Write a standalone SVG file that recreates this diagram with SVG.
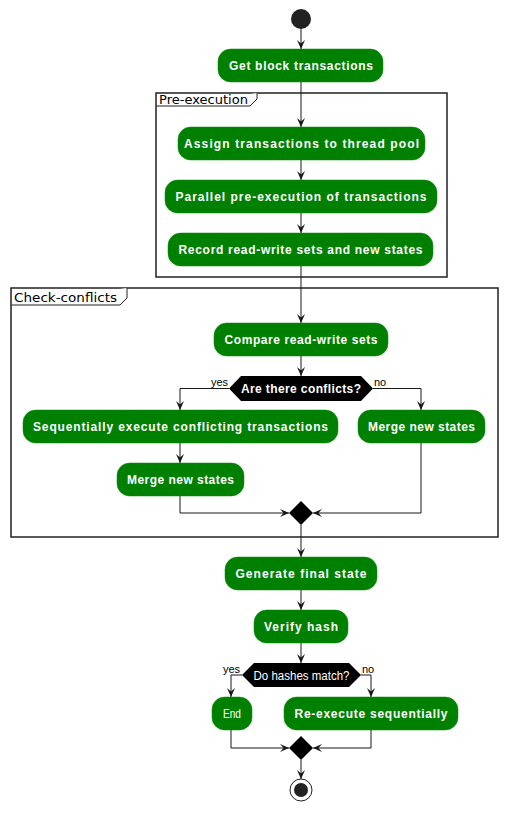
<svg xmlns="http://www.w3.org/2000/svg" width="509" height="814" viewBox="0 0 509 814">
<style>
.bg{fill:#ffffff}
.act{fill:#008000;stroke:#0a8a0a;stroke-width:0.5}
.t{font-family:"Liberation Sans","DejaVu Sans",sans-serif;font-size:12px;font-weight:bold;fill:#ffffff;text-anchor:middle}
.tn{font-family:"Liberation Sans","DejaVu Sans",sans-serif;font-size:12px;fill:#ffffff;text-anchor:middle}
.dec{fill:#000000}
.lbl{font-family:"Liberation Sans","DejaVu Sans",sans-serif;font-size:11px;fill:#000000}
.frame{fill:none;stroke:#222222;stroke-width:1.5}
.ftab{fill:#ffffff;stroke:#222222;stroke-width:1}
.ftxt{font-family:"DejaVu Sans","Liberation Sans",sans-serif;font-size:13px;fill:#000000}
.c{fill:none;stroke:#181818;stroke-width:1}
.merge{fill:#000000}
</style>
<defs>
<marker id="arr" viewBox="0 0 10 10" refX="10" refY="5" markerWidth="9" markerHeight="9" markerUnits="userSpaceOnUse" orient="auto">
<path d="M0,0.5 L10,5 L0,9.5 L4,5 Z" fill="#181818"/>
</marker>
</defs>
<rect class="bg" x="0" y="0" width="509" height="814"/>

<g id="frame-pre-execution">
<rect class="frame" x="156" y="93" width="291" height="184"/>
<path class="ftab" d="M156,106 H250 L257,99 V93"/>
<text class="ftxt" x="159" y="104" textLength="89" lengthAdjust="spacingAndGlyphs">Pre-execution</text>
</g>
<g id="frame-check-conflicts">
<rect class="frame" x="11" y="288" width="487" height="249"/>
<path class="ftab" d="M11,305 H120 L127,298 V288"/>
<text class="ftxt" x="14" y="302" textLength="103" lengthAdjust="spacingAndGlyphs">Check-conflicts</text>
</g>

<g id="connectors">
<line class="c" x1="301" y1="29" x2="301" y2="49" marker-end="url(#arr)"/>
<line class="c" x1="301" y1="82" x2="301" y2="127" marker-end="url(#arr)"/>
<line class="c" x1="301" y1="160" x2="301" y2="180" marker-end="url(#arr)"/>
<line class="c" x1="301" y1="213" x2="301" y2="233" marker-end="url(#arr)"/>
<line class="c" x1="301" y1="266" x2="301" y2="323" marker-end="url(#arr)"/>
<line class="c" x1="301" y1="356" x2="301" y2="376" marker-end="url(#arr)"/>
<polyline class="c" points="229,388.5 180,388.5 180,410" marker-end="url(#arr)"/>
<polyline class="c" points="373,388.5 421,388.5 421,410" marker-end="url(#arr)"/>
<line class="c" x1="180" y1="443" x2="180" y2="463" marker-end="url(#arr)"/>
<polyline class="c" points="180,496 180,513 289,513" marker-end="url(#arr)"/>
<polyline class="c" points="421,443 421,513 313,513" marker-end="url(#arr)"/>
<line class="c" x1="301" y1="525" x2="301" y2="557" marker-end="url(#arr)"/>
<line class="c" x1="301" y1="590" x2="301" y2="610" marker-end="url(#arr)"/>
<line class="c" x1="301" y1="643" x2="301" y2="663" marker-end="url(#arr)"/>
<polyline class="c" points="242,675 231,675 231,697" marker-end="url(#arr)"/>
<polyline class="c" points="361,675 371,675 371,697" marker-end="url(#arr)"/>
<polyline class="c" points="231,730 231,748 289,748" marker-end="url(#arr)"/>
<polyline class="c" points="371,730 371,748 313,748" marker-end="url(#arr)"/>
<line class="c" x1="301" y1="760" x2="301" y2="779" marker-end="url(#arr)"/>
<text class="lbl" x="211" y="386">yes</text>
<text class="lbl" x="374" y="386">no</text>
<text class="lbl" x="223" y="673">yes</text>
<text class="lbl" x="362" y="673">no</text>
</g>

<g id="start"><circle cx="301" cy="19" r="10" fill="#222222"/></g>

<g id="get-block-transactions">
<rect class="act" x="218" y="49" width="165" height="33" rx="12.5"/>
<text class="t" x="301" y="70" textLength="144" lengthAdjust="spacing">Get block transactions</text>
</g>
<g id="assign-transactions">
<rect class="act" x="178" y="127" width="247" height="33" rx="12.5"/>
<text class="t" x="301.5" y="148" textLength="235" lengthAdjust="spacing">Assign transactions to thread pool</text>
</g>
<g id="parallel-pre-execution">
<rect class="act" x="165" y="180" width="272" height="33" rx="12.5"/>
<text class="t" x="301" y="201" textLength="251" lengthAdjust="spacing">Parallel pre-execution of transactions</text>
</g>
<g id="record-read-write-sets">
<rect class="act" x="168" y="233" width="265" height="33" rx="12.5"/>
<text class="t" x="300.5" y="254" textLength="244" lengthAdjust="spacing">Record read-write sets and new states</text>
</g>
<g id="compare-read-write-sets">
<rect class="act" x="214" y="323" width="174" height="33" rx="12.5"/>
<text class="t" x="301" y="344" textLength="153" lengthAdjust="spacing">Compare read-write sets</text>
</g>
<g id="conflicts-decision">
<polygon class="dec" points="229,388.5 241,376 361,376 373,388.5 361,401 241,401"/>
<text class="t" x="301" y="393" textLength="120" lengthAdjust="spacing">Are there conflicts?</text>
</g>
<g id="sequentially-execute">
<rect class="act" x="23" y="410" width="315" height="33" rx="12.5"/>
<text class="t" x="180.5" y="431" textLength="295" lengthAdjust="spacing">Sequentially execute conflicting transactions</text>
</g>
<g id="merge-new-states-no">
<rect class="act" x="358" y="410" width="127" height="33" rx="12.5"/>
<text class="t" x="421.5" y="431" textLength="107" lengthAdjust="spacing">Merge new states</text>
</g>
<g id="merge-new-states-yes">
<rect class="act" x="117" y="463" width="127" height="33" rx="12.5"/>
<text class="t" x="180.5" y="484" textLength="107" lengthAdjust="spacing">Merge new states</text>
</g>
<g id="merge-1"><polygon class="merge" points="301,501 313,513 301,525 289,513"/></g>
<g id="generate-final-state">
<rect class="act" x="225" y="557" width="152" height="33" rx="12.5"/>
<text class="t" x="301" y="578" textLength="131" lengthAdjust="spacing">Generate final state</text>
</g>
<g id="verify-hash">
<rect class="act" x="254" y="610" width="94" height="33" rx="12.5"/>
<text class="t" x="301" y="631" textLength="74" lengthAdjust="spacing">Verify hash</text>
</g>
<g id="hash-decision">
<polygon class="dec" points="242,675 254,663 349,663 361,675 349,687 254,687"/>
<text class="tn" x="301.5" y="679.5" textLength="96" lengthAdjust="spacingAndGlyphs">Do hashes match?</text>
</g>
<g id="end-action">
<rect class="act" x="212" y="697" width="40" height="33" rx="12.5"/>
<text class="tn" x="232" y="718" textLength="18" lengthAdjust="spacingAndGlyphs">End</text>
</g>
<g id="re-execute-sequentially">
<rect class="act" x="284" y="697" width="174" height="33" rx="12.5"/>
<text class="t" x="371" y="718" textLength="153" lengthAdjust="spacing">Re-execute sequentially</text>
</g>
<g id="merge-2"><polygon class="merge" points="301,736 313,748 301,760 289,748"/></g>
<g id="stop">
<circle cx="301" cy="790" r="11" fill="#ffffff" stroke="#222222" stroke-width="1"/>
<circle cx="301" cy="790" r="7" fill="#222222"/>
</g>
</svg>
